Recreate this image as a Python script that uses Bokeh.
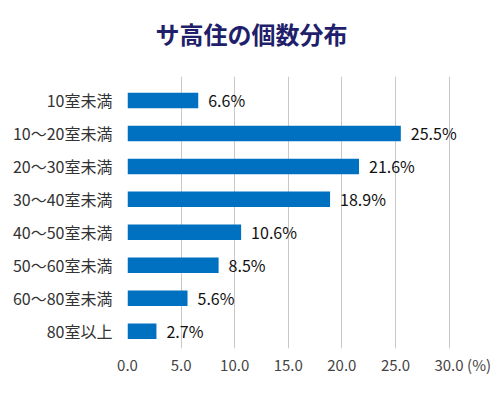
from bokeh.plotting import figure
from bokeh.layouts import column
from bokeh.models import Range1d, FixedTicker, ColumnDataSource
from bokeh.core.properties import value
from bokeh.embed import file_html
from bokeh.resources import INLINE

categories = ["10室未満", "10～20室未満", "20～30室未満", "30～40室未満",
              "40～50室未満", "50～60室未満", "60～80室未満", "80室以上"]
values = [6.6, 25.5, 21.6, 18.9, 10.6, 8.5, 5.6, 2.7]
grid_ticks = [0, 5, 10, 15, 20, 25, 30]
x_tick_labels = ["0.0", "5.0", "10.0", "15.0", "20.0", "25.0", "30.0"]
unit_pos = 32.8
unit_text = "(%)"
title_text = "サ高住の個数分布"

FONT = "Noto Sans CJK JP"
W = 500
TITLE_H = 60
X_END = 34.8
TITLE_X = 11.57   # horizontal centre of the title (page centre) on the shared x scale

# title strip (its frame is aligned with the chart frame by the column layout)
t = figure(width=W, height=TITLE_H, output_backend="svg", toolbar_location=None,
           x_range=Range1d(0, X_END), y_range=Range1d(0, TITLE_H),
           x_axis_type=None, y_axis_type=None, min_border=0)
t.outline_line_color = None
t.xgrid.grid_line_color = None
t.ygrid.grid_line_color = None
t.text(x=[TITLE_X], y=[TITLE_H - 33], text=[title_text],
       text_align="center", text_baseline="middle",
       text_font=value(FONT), text_font_size="24px",
       text_font_style="bold", text_color="#1f1f6b")

n = len(categories)
ypos = [n - 1 - i for i in range(n)]
src = ColumnDataSource(dict(
    y=ypos, v=values, lab=[f"{v:.1f}%" for v in values]))

p = figure(width=W, height=393 - TITLE_H, output_backend="svg", toolbar_location=None,
           x_range=Range1d(0, X_END), y_range=Range1d(-0.525, 7.728),
           min_border_left=127, min_border_right=0,
           min_border_top=76 - TITLE_H, min_border_bottom=45)
p.outline_line_color = None
p.background_fill_color = "white"
p.border_fill_color = "white"

p.hbar(y="y", right="v", left=0, height=0.47, source=src,
       fill_color="#0070c0", line_color=None)

p.text(x="v", y="y", text="lab", source=src, x_offset=10,
       text_baseline="middle", text_align="left",
       text_font=value(FONT), text_font_size="16px", text_color="#111111")

p.xgrid.ticker = FixedTicker(ticks=grid_ticks)
p.xgrid.grid_line_color = "#c8c8c8"
p.ygrid.grid_line_color = None

p.xaxis.ticker = FixedTicker(ticks=grid_ticks + [unit_pos])
overrides = {tk: l for tk, l in zip(grid_ticks, x_tick_labels)}
overrides[unit_pos] = unit_text
p.xaxis.major_label_overrides = overrides
p.xaxis.axis_line_color = None
p.xaxis.major_tick_line_color = None
p.xaxis.minor_tick_line_color = None
p.xaxis.major_tick_out = 0
p.xaxis.major_tick_in = 0
p.xaxis.major_label_standoff = 5
p.xaxis.major_label_text_font = FONT
p.xaxis.major_label_text_font_size = "15px"
p.xaxis.major_label_text_color = "#444444"

p.yaxis.ticker = FixedTicker(ticks=ypos)
p.yaxis.major_label_overrides = {y: c for y, c in zip(ypos, categories)}
p.yaxis.axis_line_color = None
p.yaxis.major_tick_line_color = None
p.yaxis.minor_tick_line_color = None
p.yaxis.major_label_standoff = 9
p.yaxis.major_label_text_font = FONT
p.yaxis.major_label_text_font_size = "16px"
p.yaxis.major_label_text_color = "#333333"

layout = column(t, p, spacing=0)
open("out.html", "w").write(file_html(layout, INLINE))
